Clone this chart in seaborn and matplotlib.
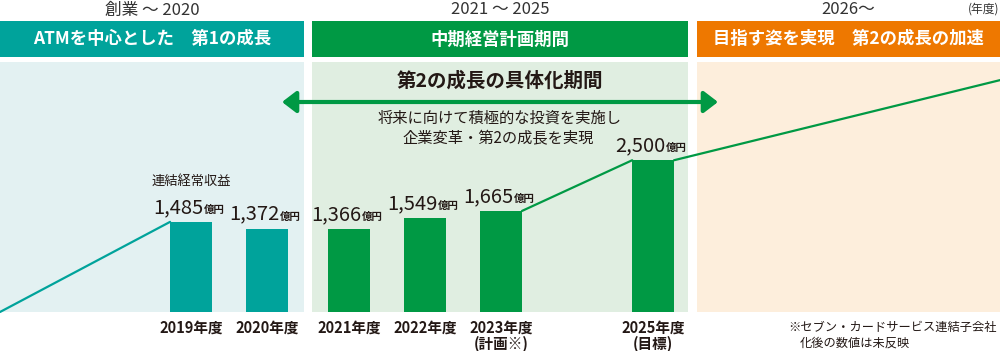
import numpy as np
import pandas as pd
import matplotlib
matplotlib.use("Agg")
import matplotlib.pyplot as plt
from matplotlib.patches import Rectangle, Polygon, FancyArrowPatch
from matplotlib.transforms import blended_transform_factory
import seaborn as sns

# --- データ ---
fiscal_years = [2019, 2020, 2021, 2022, 2023, 2025]
revenue = [1485, 1372, 1366, 1549, 1665, 2500]          # 連結経常収益 (億円)
year_labels = ['2019年度', '2020年度', '2021年度', '2022年度', '2023年度', '2025年度']
year_notes = ['', '', '', '', '(計画※)', '(目標)']
era = ['創業', '創業', '中計', '中計', '中計', '中計']
trend_end_value = 3820                                  # 2026年以降の成長ライン (右端)

periods = ['創業 ～ 2020', '2021 ～ 2025', '2026～']
period_titles = ['ATMを中心とした　第1の成長', '中期経営計画期間', '目指す姿を実現　第2の成長の加速']

# --- 色 ---
TEAL, GREEN, ORANGE = '#00A39B', '#009944', '#EE7800'
BG = ['#E3F1F2', '#E0EEE1', '#FDEEDC']
HEAD = [TEAL, GREEN, ORANGE]
INK = '#231815'

# --- レイアウト (ピクセル) ---
W, H = 1000, 351
PANEL_X = [(0, 304), (312, 688), (697, 1000)]
BASE_PX = 312
PX_PER_YEAR = 76
X2019_PX = 191
PX_PER_OKU = 0.0607
BAR_W = 0.55
GAP = 0.08   # 2020と2021の間のパネル境界分のずれ

sns.set_style('white')
plt.rcParams['font.family'] = ['Noto Sans CJK JP', 'DejaVu Sans']

df = pd.DataFrame({'year': fiscal_years, 'value': revenue, 'era': era})
df['pos'] = df['year'] + np.where(df['year'] >= 2021, GAP, 0.0)

fig = plt.figure(figsize=(W / 100, H / 100), dpi=100)

# 背景・装飾用 (ピクセル座標)
deco = fig.add_axes([0, 0, 1, 1], zorder=0)
deco.set_xlim(0, W)
deco.set_ylim(H, 0)
deco.axis('off')

for (x0, x1), bg, hc, per, title in zip(PANEL_X, BG, HEAD, periods, period_titles):
    deco.add_patch(Rectangle((x0, 62), x1 - x0, BASE_PX - 62, color=bg, lw=0))
    deco.add_patch(Rectangle((x0, 21), x1 - x0, 36, color=hc, lw=0))
    cx = (x0 + x1) / 2
    deco.text(cx, 39.5, title, ha='center', va='center', color='white',
              fontsize=12.5, fontweight='bold')
    deco.text(cx, 10, per, ha='center', va='center', color='#333333', fontsize=12)

deco.text(999, 9, '(年度)', ha='right', va='center', color='#333333', fontsize=8.5)

# 第2の成長の具体化期間 (両矢印)
deco.add_patch(FancyArrowPatch((282, 102), (718, 102),
                               arrowstyle='<|-|>,head_length=0.85,head_width=0.65',
                               mutation_scale=10, color=GREEN, lw=3, shrinkA=0, shrinkB=0))
deco.text(500, 81, '第2の成長の具体化期間', ha='center', va='center', color=INK,
          fontsize=14, fontweight='bold')
deco.text(500, 118, '将来に向けて積極的な投資を実施し', ha='center', va='center',
          color=INK, fontsize=11)
deco.text(498, 139, '企業変革・第2の成長を実現', ha='center', va='center',
          color=INK, fontsize=11)

# グラデーション矢印
arrow_poly = Polygon([(732, 185), (938, 117), (935, 107), (982, 114), (950, 150), (947, 140)],
                     closed=True, transform=deco.transData, fc='none', ec='none')
deco.add_patch(arrow_poly)
xs = np.linspace(732, 982, 300)
alpha = np.clip((xs - 740) / 100, 0, 1) ** 0.8
grad = np.zeros((1, len(xs), 4))
grad[..., :3] = matplotlib.colors.to_rgb(ORANGE)
grad[..., 3] = alpha
im = deco.imshow(grad, extent=[732, 982, 185, 107], aspect='auto', interpolation='bilinear')
im.set_clip_path(arrow_poly)
deco.set_xlim(0, W)
deco.set_ylim(H, 0)

# 注記
deco.text(788, 327, '※セブン・カードサービス連結子会社', ha='left', va='center',
          color=INK, fontsize=8.8)
deco.text(800, 343, '化後の数値は未反映', ha='left', va='center', color=INK, fontsize=8.8)

# --- データ軸 ---
ax = fig.add_axes([0, 0, 1, 1], zorder=1)
ax.patch.set_alpha(0)
x_left = 2019 - X2019_PX / PX_PER_YEAR
x_right = 2019 + (W - X2019_PX) / PX_PER_YEAR
ax.set_xlim(x_left, x_right)
ax.set_ylim(-(H - BASE_PX) / PX_PER_OKU, BASE_PX / PX_PER_OKU)

sns.barplot(data=df, x='pos', y='value', hue='era', palette={'創業': TEAL, '中計': GREEN},
            native_scale=True, dodge=False, width=BAR_W, legend=False, ax=ax,
            saturation=1, linewidth=0)
ax.set_xlim(x_left, x_right)
ax.set_ylim(-(H - BASE_PX) / PX_PER_OKU, BASE_PX / PX_PER_OKU)

# 推移ライン (棒の角を結ぶ)
p = df.set_index('year')
half = BAR_W / 2
sns.lineplot(x=[x_left, p.loc[2019, 'pos'] - half], y=[0, p.loc[2019, 'value']],
             color=TEAL, lw=1.6, sort=False, estimator=None, ax=ax)
sns.lineplot(x=[p.loc[2023, 'pos'] + half, p.loc[2025, 'pos'] - half],
             y=[p.loc[2023, 'value'], p.loc[2025, 'value']],
             color=GREEN, lw=1.6, sort=False, estimator=None, ax=ax)
sns.lineplot(x=[p.loc[2025, 'pos'] + half, x_right], y=[p.loc[2025, 'value'], trend_end_value],
             color=GREEN, lw=1.6, sort=False, estimator=None, ax=ax)

# 数値ラベル
for _, r in df.iterrows():
    ax.annotate(f"{r['value']:,}", xy=(r['pos'], r['value']), xytext=(9, 6.5),
                textcoords='offset points', ha='right', va='baseline',
                color=INK, fontsize=14.5)
    ax.annotate('億円', xy=(r['pos'], r['value']), xytext=(9, 6.5),
                textcoords='offset points', ha='left', va='baseline',
                color=INK, fontsize=7.5, fontweight='bold')
ax.annotate('連結経常収益', xy=(p.loc[2019, 'pos'], p.loc[2019, 'value']), xytext=(0, 29),
            textcoords='offset points', ha='center', va='center', color=INK, fontsize=9.5)

# 年度ラベル
tr = blended_transform_factory(ax.transData, deco.transData)
for pos, lab, note in zip(df['pos'], year_labels, year_notes):
    ax.text(pos, 328, lab, transform=tr, ha='center', va='center', color=INK,
            fontsize=10.5, fontweight='bold')
    if note:
        ax.text(pos, 344, note, transform=tr, ha='center', va='center', color=INK,
                fontsize=10.5, fontweight='bold')

ax.axis('off')
fig.savefig('out.png', dpi=100)
